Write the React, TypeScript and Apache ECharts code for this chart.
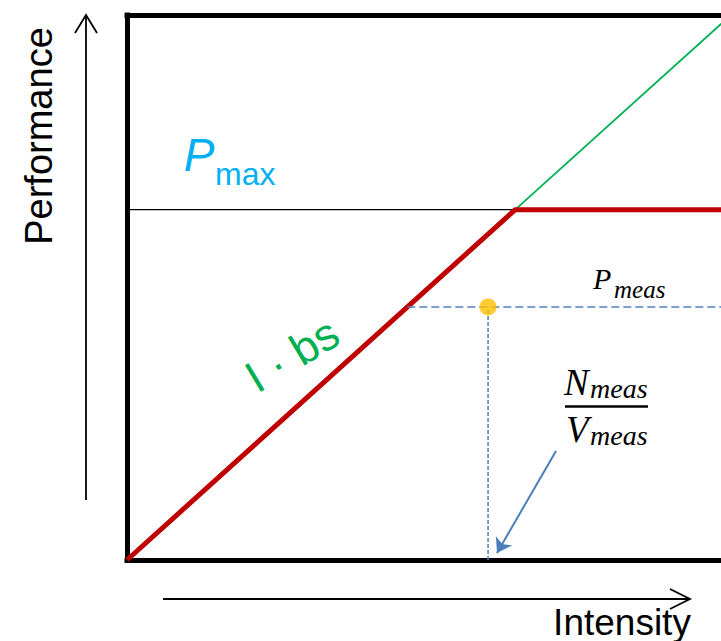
import React, { useEffect, useRef } from "react";
import * as echarts from "echarts";

// Axis ranges (arbitrary units of the schematic)
const xRange = [0, 15.3];
const yRange = [0, 14];

// Roofline: bandwidth-bound slope then flat Pmax
const rooflineRed = [
  [0, 0],
  [10, 9],
  [16, 9],
];
// Pmax level line (thin black) up to the ridge point
const pmaxLine = [
  [0, 9],
  [10, 9],
];
// Extension of I·bs beyond the ridge
const bsExtension = [
  [10, 9],
  [16, 14.4],
];
// Measured point
const measPoint = [9.3, 6.5];
const measHoriz = [
  [7.22, 6.5],
  [16, 6.5],
];
const measVert = [
  [9.3, 0],
  [9.3, 6.5],
];
// Pointer arrow to intensity on x axis
const pointerArrow = [
  [11.05, 2.8],
  [9.53, 0.18],
];

const SANS = '"Liberation Sans", Arial, sans-serif';
const SERIF = '"Liberation Serif", "Times New Roman", serif';

export default function App() {
  const ref = useRef<HTMLDivElement>(null);
  useEffect(() => {
    document.body.style.margin = "0";
    const chart = echarts.init(ref.current!, null, { renderer: "svg" });
    const axisLine = { show: true, lineStyle: { color: "#000", width: 5, cap: "square" } };
    chart.setOption({
      animation: false,
      grid: { left: 127, top: 15, right: 0, bottom: 81 },
      xAxis: [
        {
          type: "value",
          min: xRange[0],
          max: xRange[1],
          position: "bottom",
          axisLine: { ...axisLine, onZero: false },
          axisTick: { show: false },
          axisLabel: { show: false },
          splitLine: { show: false },
        },
        {
          type: "value",
          min: xRange[0],
          max: xRange[1],
          position: "top",
          axisLine: { ...axisLine, onZero: false },
          axisTick: { show: false },
          axisLabel: { show: false },
          splitLine: { show: false },
        },
      ],
      yAxis: {
        type: "value",
        min: yRange[0],
        max: yRange[1],
        axisLine: { ...axisLine, onZero: false },
        axisTick: { show: false },
        axisLabel: { show: false },
        splitLine: { show: false },
      },
      series: [
        {
          type: "line",
          data: pmaxLine,
          symbol: "none",
          lineStyle: { color: "#000", width: 1.3 },
        },
        {
          type: "line",
          data: bsExtension,
          symbol: "none",
          lineStyle: { color: "#00B050", width: 1.8 },
        },
        {
          type: "line",
          data: rooflineRed,
          symbol: "none",
          lineStyle: { color: "#C00000", width: 5 },
        },
        {
          type: "line",
          data: measHoriz,
          symbol: "none",
          lineStyle: { color: "#4F81BD", width: 1.5, type: [8, 4] },
        },
        {
          type: "line",
          data: measVert,
          symbol: "none",
          lineStyle: { color: "#4F81BD", width: 1.5, type: [4, 2] },
        },
        {
          type: "lines",
          coordinateSystem: "cartesian2d",
          symbol: ["none", "arrow"],
          symbolSize: 14,
          lineStyle: { color: "#4A7EBB", width: 2, opacity: 1, curveness: 0 },
          data: [{ coords: pointerArrow }],
        },
        {
          type: "scatter",
          data: [measPoint],
          symbolSize: 17,
          itemStyle: { color: "#FFC000" },
          z: 5,
        },
      ],
      graphic: [
        // Performance axis arrow
        { type: "line", shape: { x1: 86, y1: 500, x2: 86, y2: 16 }, style: { stroke: "#000", lineWidth: 1.8 } },
        { type: "polyline", shape: { points: [[75, 33], [86, 15], [97, 33]] }, style: { stroke: "#000", lineWidth: 1.8, fill: null } },
        // Intensity axis arrow
        { type: "line", shape: { x1: 163, y1: 599, x2: 689, y2: 599 }, style: { stroke: "#000", lineWidth: 1.8 } },
        { type: "polyline", shape: { points: [[670, 589], [690, 599], [670, 609]] }, style: { stroke: "#000", lineWidth: 1.8, fill: null } },
        {
          type: "text",
          x: 39,
          y: 136,
          rotation: Math.PI / 2,
          style: { text: "Performance", fontSize: 38, fontFamily: SANS, fill: "#000", align: "center", verticalAlign: "middle" },
        },
        {
          type: "text",
          x: 622,
          y: 622,
          style: { text: "Intensity", fontSize: 37, fontFamily: SANS, fill: "#000", align: "center", verticalAlign: "middle" },
        },
        // Pmax
        {
          type: "text",
          x: 199,
          y: 155,
          style: { text: "P", fontSize: 46, fontStyle: "italic", fontFamily: SANS, fill: "#00B0F0", align: "center", verticalAlign: "middle" },
        },
        {
          type: "text",
          x: 215,
          y: 174,
          style: { text: "max", fontSize: 32, fontFamily: SANS, fill: "#00B0F0", align: "left", verticalAlign: "middle" },
        },
        // I · bs
        {
          type: "text",
          x: 292,
          y: 355,
          rotation: (31 * Math.PI) / 180,
          style: { text: "I · bs", fontSize: 45, fontFamily: SANS, fill: "#00B050", align: "center", verticalAlign: "middle" },
        },
        // P_meas
        {
          type: "text",
          x: 593,
          y: 278,
          style: { text: "P", fontSize: 30, fontStyle: "italic", fontFamily: SERIF, fill: "#000", align: "left", verticalAlign: "middle" },
        },
        {
          type: "text",
          x: 614,
          y: 289,
          style: { text: "meas", fontSize: 25, fontStyle: "italic", fontFamily: SERIF, fill: "#000", align: "left", verticalAlign: "middle" },
        },
        // N_meas / V_meas
        {
          type: "text",
          x: 564,
          y: 382,
          style: { text: "N", fontSize: 37, fontStyle: "italic", fontFamily: SERIF, fill: "#000", align: "left", verticalAlign: "middle" },
        },
        {
          type: "text",
          x: 590,
          y: 388,
          style: { text: "meas", fontSize: 28, fontStyle: "italic", fontFamily: SERIF, fill: "#000", align: "left", verticalAlign: "middle" },
        },
        { type: "line", shape: { x1: 565, y1: 406.5, x2: 648, y2: 406.5 }, style: { stroke: "#000", lineWidth: 2.4 } },
        {
          type: "text",
          x: 566,
          y: 429,
          style: { text: "V", fontSize: 37, fontStyle: "italic", fontFamily: SERIF, fill: "#000", align: "left", verticalAlign: "middle" },
        },
        {
          type: "text",
          x: 590,
          y: 435,
          style: { text: "meas", fontSize: 28, fontStyle: "italic", fontFamily: SERIF, fill: "#000", align: "left", verticalAlign: "middle" },
        },
      ],
    });
    return () => chart.dispose();
  }, []);
  return <div ref={ref} style={{ width: 721, height: 641 }} />;
}
